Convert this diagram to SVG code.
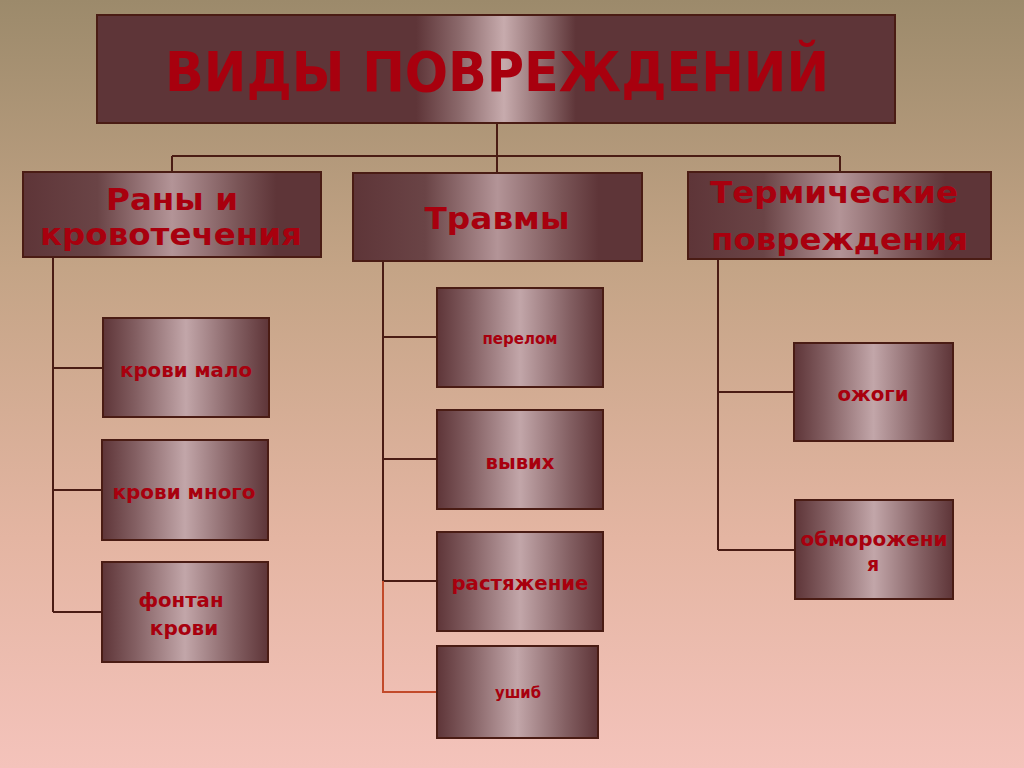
<svg xmlns="http://www.w3.org/2000/svg" width="1024" height="768" viewBox="0 0 1024 768">
<defs>
<linearGradient id="bg" x1="0" y1="0" x2="0" y2="1">
<stop offset="0" stop-color="#9c8a6b"/>
<stop offset="0.35" stop-color="#c4a486"/>
<stop offset="0.7" stop-color="#e4b5a2"/>
<stop offset="1" stop-color="#f4c3bb"/>
</linearGradient>
<linearGradient id="gTitleBox" gradientUnits="userSpaceOnUse" x1="97" y1="0" x2="895" y2="0">
<stop offset="0" stop-color="#5e3538"/>
<stop offset="0.4" stop-color="#5e3538"/>
<stop offset="0.455" stop-color="#8c6a6c"/>
<stop offset="0.51" stop-color="#c7abad"/>
<stop offset="0.56" stop-color="#8c6a6c"/>
<stop offset="0.6" stop-color="#5e3538"/>
<stop offset="1" stop-color="#5e3538"/>
</linearGradient>
<linearGradient id="gHead" x1="0" y1="0" x2="1" y2="0">
<stop offset="0" stop-color="#5e3538"/>
<stop offset="0.25" stop-color="#6a4446"/>
<stop offset="0.5" stop-color="#b39497"/>
<stop offset="0.72" stop-color="#7a5557"/>
<stop offset="0.85" stop-color="#5e3538"/>
<stop offset="1" stop-color="#5e3538"/>
</linearGradient>
<linearGradient id="gLeaf" x1="0" y1="0" x2="1" y2="0">
<stop offset="0" stop-color="#5e3538"/>
<stop offset="0.2" stop-color="#835f62"/>
<stop offset="0.5" stop-color="#c2a6a9"/>
<stop offset="0.8" stop-color="#835f62"/>
<stop offset="1" stop-color="#5e3538"/>
</linearGradient>
</defs>
<style>
.box{stroke:#4a1c14;stroke-width:2}
.head{fill:url(#gHead)}
.leaf{fill:url(#gLeaf)}
.t{font-family:"DejaVu Sans",sans-serif;font-weight:bold;fill:#a8000e;text-anchor:middle}
.ln{stroke:#4a1c14;stroke-width:2;fill:none}
.ln2{stroke:#c24a2a;stroke-width:2;fill:none}
</style>
<rect width="1024" height="768" fill="url(#bg)"/>

<g id="connectors">
<path class="ln" d="M497 123V156M172 156H840M172 156V172M497 156V173M840 156V171"/>
<path class="ln" d="M53 257V612M53 368H103M53 490H102M53 612H102"/>
<path class="ln" d="M383 261V581M383 337H437M383 459H437M383 581H437"/>
<path class="ln2" d="M383 581V692H437"/>
<path class="ln" d="M718 259V550M718 392H794M718 550H795"/>
</g>

<g id="title">
<rect class="box" x="97" y="15" width="798" height="108" fill="url(#gTitleBox)"/>
<text class="t" x="497" y="91" font-size="56" textLength="664" lengthAdjust="spacingAndGlyphs">ВИДЫ ПОВРЕЖДЕНИЙ</text>
</g>

<g id="wounds">
<rect class="box head" x="23" y="172" width="298" height="85"/>
<text class="t" x="172" y="210" font-size="31" textLength="132" lengthAdjust="spacingAndGlyphs">Раны и</text>
<text class="t" x="171" y="245" font-size="31" textLength="262" lengthAdjust="spacingAndGlyphs">кровотечения</text>
</g>
<g id="injuries">
<rect class="box head" x="353" y="173" width="289" height="88"/>
<text class="t" x="497" y="229" font-size="31" textLength="145" lengthAdjust="spacingAndGlyphs">Травмы</text>
</g>
<g id="thermal">
<rect class="box head" x="688" y="172" width="303" height="87"/>
<text class="t" x="834" y="203" font-size="31" textLength="248" lengthAdjust="spacingAndGlyphs">Термические</text>
<text class="t" x="839.5" y="250" font-size="31" textLength="257" lengthAdjust="spacingAndGlyphs">повреждения</text>
</g>

<g id="little-blood">
<rect class="box leaf" x="103" y="318" width="166" height="99"/>
<text class="t" x="186" y="377" font-size="20" textLength="132" lengthAdjust="spacingAndGlyphs">крови мало</text>
</g>
<g id="much-blood">
<rect class="box leaf" x="102" y="440" width="166" height="100"/>
<text class="t" x="184" y="499" font-size="20" textLength="143" lengthAdjust="spacingAndGlyphs">крови много</text>
</g>
<g id="fountain">
<rect class="box leaf" x="102" y="562" width="166" height="100"/>
<text class="t" x="181" y="607" font-size="20" textLength="85" lengthAdjust="spacingAndGlyphs">фонтан</text>
<text class="t" x="184" y="635" font-size="20">крови</text>
</g>

<g id="fracture">
<rect class="box leaf" x="437" y="288" width="166" height="99"/>
<text class="t" x="520" y="344" font-size="15" textLength="75" lengthAdjust="spacingAndGlyphs">перелом</text>
</g>
<g id="dislocation">
<rect class="box leaf" x="437" y="410" width="166" height="99"/>
<text class="t" x="520" y="469" font-size="19" textLength="69" lengthAdjust="spacingAndGlyphs">вывих</text>
</g>
<g id="sprain">
<rect class="box leaf" x="437" y="532" width="166" height="99"/>
<text class="t" x="520" y="590" font-size="20" textLength="137" lengthAdjust="spacingAndGlyphs">растяжение</text>
</g>
<g id="bruise">
<rect class="box leaf" x="437" y="646" width="161" height="92"/>
<text class="t" x="518" y="698" font-size="15" textLength="46" lengthAdjust="spacingAndGlyphs">ушиб</text>
</g>

<g id="burns">
<rect class="box leaf" x="794" y="343" width="159" height="98"/>
<text class="t" x="873" y="401" font-size="20" textLength="71" lengthAdjust="spacingAndGlyphs">ожоги</text>
</g>
<g id="frostbite">
<rect class="box leaf" x="795" y="500" width="158" height="99"/>
<text class="t" x="874" y="546" font-size="19" textLength="147" lengthAdjust="spacingAndGlyphs">обморожени</text>
<text class="t" x="873" y="571" font-size="19">я</text>
</g>
</svg>
